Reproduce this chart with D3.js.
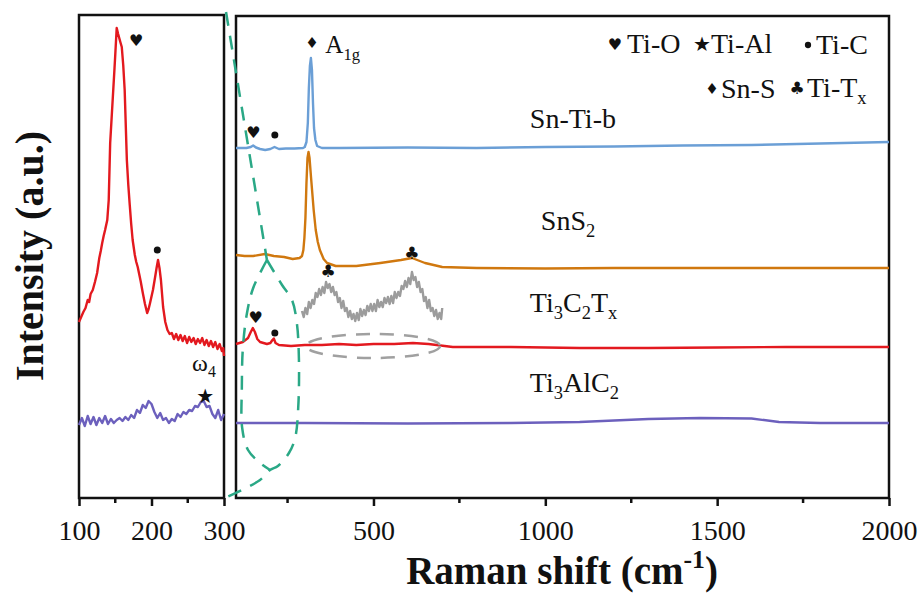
<!DOCTYPE html>
<html lang="en">
<head>
<meta charset="UTF-8">
<title>Raman spectra</title>
<style>
  body { margin: 0; background: #fff; }
  svg { font-family: "Liberation Serif", "Tinos", "DejaVu Serif", serif; }
  .frame { fill: none; stroke: #111; stroke-width: 2.5px; }
  .spec { fill: none; stroke-width: 2.4px; stroke-linejoin: round; }
  .label { font-family: "Liberation Serif", "Tinos", "DejaVu Serif", serif; fill: #111; }
  .glyph { font-family: "DejaVu Sans", sans-serif; fill: #111; text-anchor: middle; dominant-baseline: central; }
</style>
</head>
<body>
<script src="https://d3js.org/d3.v7.min.js"></script>
<script>
const width = 922, height = 594;
const serif = "Liberation Serif, Tinos, DejaVu Serif, serif";

// ---- data: [Raman shift (cm-1), intensity (a.u.)] ----
// left panel (zoom 100-300 cm-1)
const zoomTi3C2Tx = [[100,176],[103,181],[106,186],[109,190],[112,198],[114,196],[116,204],[119,208],[122,216],[125,225],[128,240],[130,247],[132,255],[134,262],[136,268],[139,278],[141,298],[143,355],[145,380],[147,405],[149,430],[150,443],[152,470],[154,464],[157,456],[159,451],[161,433],[163,408],[166,338],[168,313],[170,293],[172,274],[174,258],[177,243],[179,236],[181,231],[183,224],[185,217],[188,205],[191,194],[194,185],[196,189],[198,195],[202,208],[205,221],[207,230],[209,238],[211,230],[213,218],[216,191],[219,176],[222,168],[225,164],[228,165],[231,159],[234,164],[237,158],[240,163],[243,157],[246,162],[249,155],[252,161],[255,156],[258,160],[261,154],[264,159],[267,155],[270,160],[273,153],[276,158],[279,152],[282,157],[285,151],[288,156],[291,149],[294,154],[297,147],[299,150],[300,142]];
const zoomTi3AlC2 = [[100,73],[104,80],[108,72],[112,82],[116,74],[120,81],[124,73],[128,80],[132,75],[136,82],[140,74],[144,79],[148,75],[152,78],[156,80],[160,77],[164,81],[168,78],[172,83],[176,80],[180,88],[184,85],[188,93],[192,90],[196,97],[200,94],[204,86],[208,80],[212,85],[216,78],[220,80],[224,75],[228,79],[232,77],[236,84],[240,81],[244,86],[248,84],[252,88],[256,87],[260,92],[264,91],[268,96],[272,97],[276,91],[280,92],[284,84],[288,80],[292,88],[296,78],[300,84]];

// right panel (100-2000 cm-1)
const snTiB = [[100,350],[130,350],[143,351],[150,352.5],[158,350.5],[170,349],[185,348],[200,349],[212,351],[225,349],[245,349.5],[270,349.5],[295,350],[300,351],[305,356],[309,375],[312,410],[315,432],[318,440],[321,428],[324,395],[327,370],[331,358],[336,352],[350,350],[400,350],[600,350.5],[800,350],[1000,351],[1200,351.5],[1400,352.5],[1600,353],[1800,354.5],[2000,356]];
const snS2 = [[100,243],[125,242],[150,242],[184,244],[210,242],[240,241],[265,239],[285,240],[292,242],[296,248],[299,260],[302,280],[305,315],[308,340],[311,346],[314,340],[318,322],[322,305],[326,288],[332,268],[338,256],[344,248],[355,239],[365,235],[390,232],[450,232],[520,235],[580,238],[612,240],[650,235],[700,231],[800,230],[1000,229.5],[1200,230],[1500,230],[1800,230],[2000,230]];
const ti3c2txInset = [[292,187],[297,181],[302,190],[307,184],[312,196],[317,190],[322,198],[327,194],[332,205],[337,201],[342,209],[347,203],[352,211],[357,205],[362,216],[367,210],[372,214],[377,206],[382,211],[387,203],[392,206],[397,196],[402,200],[407,190],[412,197],[417,187],[422,190],[427,181],[432,187],[437,179],[442,184],[447,177],[452,185],[457,178],[462,189],[467,182],[472,188],[477,183],[482,192],[487,187],[492,194],[497,187],[502,194],[507,187],[512,198],[517,191],[522,196],[527,191],[532,200],[537,195],[542,201],[547,194],[552,202],[557,195],[562,206],[567,200],[572,206],[577,202],[582,212],[587,209],[592,217],[597,211],[602,220],[607,214],[612,226],[617,218],[622,221],[627,211],[632,216],[637,206],[642,209],[647,197],[652,201],[657,190],[662,198],[667,187],[672,190],[677,182],[682,188],[687,179],[692,185],[697,179],[700,190]];
const ti3c2tx = [[100,154],[120,156],[135,160],[143,166],[149,170],[155,166],[162,159],[170,156],[190,154],[200,155],[206,158],[210,159.5],[215,155],[225,153],[260,152],[300,153],[350,153],[400,154],[450,153],[500,154],[560,154],[615,155],[660,154],[731,151],[900,151],[1100,150],[1300,150],[1500,150.5],[1700,151],[1900,151],[2000,151]];
const ti3alc2 = [[100,75],[300,75],[600,74.5],[900,75],[1100,76],[1300,79],[1450,80],[1600,79.5],[1680,76],[1800,75],[2000,75]];

const leftTicks = [100, 200, 300], leftMinor = [150, 250];
const rightTicks = [500, 1000, 1500, 2000], rightMinor = [250, 750, 1250, 1750];

const leftMarks = [["heart",179,458],["dot",208,248],["star",274,102]];
const rightMarks = [["diamond",321,455],["heart",151,366],["dot",213,363],["club",368,227],["club",612,245],["heart",157,181],["dot",213,165]];

const sampleNames = [
  [["Sn-Ti-b"]],
  [["SnS"],["2","sub"]],
  [["Ti"],["3","sub"],["C"],["2","sub"],["T"],["x","sub"]],
  [["Ti"],["3","sub"],["Al"],["C"],["2","sub"]]
];
const sampleLabelPos = [[955,370],[987,268],[955,186],[955,106]];

const legendSyms = ["heart","star","dot","diamond","club"];
const legendNames = [[["Ti-O"]],[["Ti-Al"]],[["Ti-C"]],[["Sn-S"]],[["Ti-T"],["x","sub"]]];

// ---- scales ----
const xL = d3.scaleLinear().domain([100, 300]).range([79, 224]);
const xR = d3.scaleLinear().domain([100, 2000]).range([236, 889]);
const y = d3.scaleLinear().domain([0, 484]).range([498, 14]);

const svg = d3.select("body").append("svg")
  .attr("width", width)
  .attr("height", height)
  .attr("font-family", serif);

svg.append("rect").attr("class", "frame")
  .attr("x", xL(100)).attr("y", y(483)).attr("width", xL(300) - xL(100)).attr("height", y(0) - y(483));
svg.append("rect").attr("class", "frame")
  .attr("x", xR(100)).attr("y", y(482)).attr("width", xR(2000) - xR(100)).attr("height", y(0) - y(482));

function drawAxis(xs, major, minor) {
  const g = svg.append("g")
    .attr("transform", `translate(0,${y(0)})`);
  g.call(d3.axisBottom(xs).tickValues(major).tickSize(8).tickPadding(14).tickFormat(d3.format("d")));
  g.attr("font-family", serif).attr("font-size", 28);
  g.select(".domain").remove();
  g.selectAll(".tick line").attr("stroke", "#111").attr("stroke-width", 2.5);
  g.selectAll(".tick text").attr("fill", "#111");
  g.selectAll(".minor").data(minor).enter().append("line")
    .attr("x1", d => xs(d)).attr("x2", d => xs(d))
    .attr("y1", 0).attr("y2", 5)
    .attr("stroke", "#111").attr("stroke-width", 2.5);
}
drawAxis(xL, leftTicks, leftMinor);
drawAxis(xR, rightTicks, rightMinor);

function spectrum(data, xs, color, w) {
  svg.append("path")
    .datum(data)
    .attr("class", "spec")
    .attr("stroke", color)
    .attr("stroke-width", w || 2.4)
    .attr("d", d3.line().x(d => xs(d[0])).y(d => y(d[1])));
}

spectrum(zoomTi3C2Tx, xL, "#e3191f");
spectrum(zoomTi3AlC2, xL, "#6c60bd");
spectrum(snTiB, xR, "#6b9fd6");
spectrum(snS2, xR, "#d0780f");
spectrum(ti3c2txInset, xR, "#9c9c9c", 2);
spectrum(ti3c2tx, xR, "#e3191f");
spectrum(ti3alc2, xR, "#6c60bd");

// gray dashed ellipse around inset region
svg.append("ellipse")
  .attr("cx", xR(499)).attr("cy", y(152))
  .attr("rx", xR(694) - xR(499)).attr("ry", y(140) - y(152))
  .attr("fill", "none").attr("stroke", "#a0a0a0").attr("stroke-width", 2.5)
  .attr("stroke-dasharray", "14 10");

// green dashed zoom callout
const greenLine = d3.line().x(d => xR(d[0])).y(d => y(d[1])).curve(d3.curveCatmullRom);
const calloutTop = [[71,486],[190,238]];
const calloutLeft = [[190,238],[150,210],[132,185],[120,150],[117,110],[118,70],[135,48],[170,35],[199,28]];
const calloutRight = [[190,238],[234,213],[263,198],[277,175],[283,140],[281,90],[272,60],[254,45],[222,32],[199,28],[170,18],[68,0]];
[calloutTop, calloutLeft, calloutRight].forEach(c => {
  svg.append("path").datum(c)
    .attr("d", greenLine)
    .attr("fill", "none").attr("stroke", "#2aa886").attr("stroke-width", 2.5)
    .attr("stroke-dasharray", "14 10");
});

// peak markers
const glyphs = { heart: ["\u2665", 16], star: ["\u2605", 20], diamond: ["\u2666", 15], club: ["\u2663", 17] };
function marker(sym, px, py, scale) {
  if (sym === "dot") {
    svg.append("circle").attr("cx", px).attr("cy", py).attr("r", 3.5 * (scale || 1)).attr("fill", "#111");
  } else {
    svg.append("text").attr("class", "glyph")
      .attr("x", px).attr("y", py)
      .style("font-size", glyphs[sym][1] * (scale || 1) + "px")
      .text(glyphs[sym][0]);
  }
}
leftMarks.forEach(m => marker(m[0], xL(m[1]), y(m[2])));
rightMarks.forEach(m => marker(m[0], xR(m[1]), y(m[2])));

function rich(x, yy, parts, size, weight) {
  const t = svg.append("text").attr("class", "label")
    .attr("x", x).attr("y", yy)
    .attr("font-family", serif)
    .style("font-size", size + "px")
    .style("font-weight", weight || "normal");
  let shift = 0;
  parts.forEach(p => {
    const kind = p[1];
    const target = kind === "sub" ? size * 0.26 : kind === "sup" ? -size * 0.42 : 0;
    t.append("tspan")
      .attr("dy", target - shift)
      .style("font-size", kind ? (size * 0.66) + "px" : null)
      .text(p[0]);
    shift = target;
  });
  return t;
}

sampleNames.forEach((n, i) => rich(xR(sampleLabelPos[i][0]), y(sampleLabelPos[i][1]), n, 28));

// A1g and omega4 annotations
rich(xR(360), y(445), [["A"], ["1g", "sub"]], 25);
rich(xL(256), y(127), [["\u03c9"], ["4", "sub"]], 24);

// legend
const legendPos = [[615, 627, 44], [702, 711, 44], [808, 816, 45], [712, 721, 89], [797, 807, 88]];
legendSyms.forEach((s, i) => {
  const p = legendPos[i];
  marker(s, p[0], p[2], s === "dot" ? 0.9 : 1);
  rich(p[1], p[2] + 9, legendNames[i], 28);
});

// axis titles
rich(562, 584, [["Raman shift (cm"], ["-1", "sup"], [")"]], 39, "bold").attr("text-anchor", "middle");
svg.append("text").attr("class", "label")
  .attr("transform", "translate(43,256) rotate(-90)")
  .attr("text-anchor", "middle")
  .attr("font-family", serif)
  .style("font-size", "40px").style("font-weight", "bold")
  .text("Intensity (a.u.)");
</script>
</body>
</html>
